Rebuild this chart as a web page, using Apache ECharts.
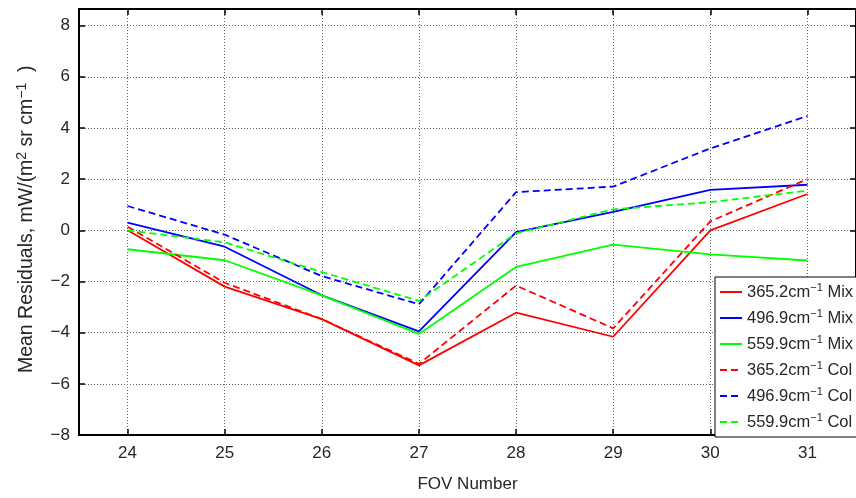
<!DOCTYPE html>
<html>
<head>
<meta charset="utf-8">
<script src="https://cdn.jsdelivr.net/npm/echarts@6/dist/echarts.min.js"></script>
<style>html,body{margin:0;padding:0;background:#fff;}#c{width:856px;height:498px;}</style>
</head>
<body>
<div id="c"></div>
<script>
const fovs = ['24', '25', '26', '27', '28', '29', '30', '31'];
const red365Mix  = [0.00, -2.20, -3.47, -5.28, -3.22, -4.16, 0.00, 1.42];
const blue497Mix = [0.30, -0.64, -2.54, -3.95, -0.07, 0.72, 1.58, 1.78];
const green560Mix = [-0.74, -1.17, -2.54, -4.05, -1.43, -0.56, -0.94, -1.18];
const red365Col  = [0.14, -2.05, -3.47, -5.22, -2.16, -3.83, 0.35, 2.00];
const blue497Col = [0.95, -0.17, -1.79, -2.89, 1.49, 1.71, 3.20, 4.47];
const green560Col = [0.00, -0.47, -1.63, -2.76, -0.12, 0.82, 1.10, 1.55];
const yTicks = [-8, -6, -4, -2, 0, 2, 4, 6, 8];

const seriesDefs = [
  {name: '365.2cm-1 Mix', data: red365Mix, color: '#ff0000', type: 'solid'},
  {name: '496.9cm-1 Mix', data: blue497Mix, color: '#0000ff', type: 'solid'},
  {name: '559.9cm-1 Mix', data: green560Mix, color: '#00ff00', type: 'solid'},
  {name: '365.2cm-1 Col', data: red365Col, color: '#ff0000', type: [7, 4]},
  {name: '496.9cm-1 Col', data: blue497Col, color: '#0000ff', type: [7, 4]},
  {name: '559.9cm-1 Col', data: green560Col, color: '#00ff00', type: [7, 4]}
];

const font = 'Liberation Sans, Arial, Helvetica, sans-serif';
const txt = '#262626';
const gridLine = {show: true, lineStyle: {color: '#666', type: [1, 2], width: 1}};

const xBase = {
  type: 'category', data: fovs, boundaryGap: true,
  axisLine: {show: true, onZero: false, lineStyle: {color: '#000', width: 2}},
  axisTick: {show: true, inside: true, length: 6, alignWithLabel: true, lineStyle: {color: '#000', width: 1.5}}
};
const yBase = {
  type: 'value', min: -8, max: 8.65, interval: 2,
  axisLine: {show: true, onZero: false, lineStyle: {color: '#000', width: 2}},
  axisTick: {show: true, inside: true, length: 6, lineStyle: {color: '#000', width: 1.5}}
};

const chart = echarts.init(document.getElementById('c'), null, {renderer: 'canvas'});
chart.setOption({
  backgroundColor: '#fff',
  animation: false,
  grid: {left: 79, right: -5, top: 9, bottom: 59, containLabel: false},
  xAxis: [
    Object.assign({}, xBase, {
      position: 'bottom',
      name: 'FOV Number', nameLocation: 'middle', nameGap: 41,
      nameTextStyle: {fontFamily: font, fontSize: 17, color: txt},
      axisLabel: {show: true, margin: 10, fontFamily: font, fontSize: 17, color: txt},
      splitLine: Object.assign({alignWithLabel: true}, gridLine)
    }),
    Object.assign({}, xBase, {
      position: 'top', axisLabel: {show: false}, splitLine: {show: false}
    })
  ],
  yAxis: [
    Object.assign({}, yBase, {
      position: 'left',
      name: '{n| Mean Residuals, mW/(m}{s|2}{n| sr cm}{s|\u22121}{n|  )}',
      nameLocation: 'middle', nameGap: 40,
      nameTextStyle: {fontFamily: font, fontSize: 19.5, color: txt,
        rich: {n: {fontFamily: font, fontSize: 19.5, color: txt, lineHeight: 24},
               s: {fontFamily: font, fontSize: 14, color: txt, verticalAlign: 'top', lineHeight: 11}}},
      axisLabel: {show: true, margin: 9, fontFamily: font, fontSize: 17, color: txt,
        formatter: function (v) {
          if (yTicks.indexOf(v) < 0) return '';
          return String(v).replace('-', '\u2212');
        }},
      splitLine: gridLine
    }),
    Object.assign({}, yBase, {
      position: 'right', axisLabel: {show: false}, splitLine: {show: false}
    })
  ],
  legend: {
    orient: 'vertical', left: 715, top: 277,
    padding: [5, 12, 5, 4], itemGap: 6, itemWidth: 22, itemHeight: 14,
    backgroundColor: '#fff', borderColor: '#000', borderWidth: 1,
    data: seriesDefs.map(d => d.name),
    itemStyle: {opacity: 0},
    formatter: function (name) {
      return name.replace(/cm-1/, 'cm{s|\u22121}');
    },
    textStyle: {fontFamily: font, fontSize: 16.5, color: txt, lineHeight: 20,
      rich: {s: {fontFamily: font, fontSize: 11, color: txt, verticalAlign: 'top', lineHeight: 10}}}
  },
  series: seriesDefs.map(d => ({
    name: d.name, type: 'line', data: d.data,
    xAxisIndex: 0, yAxisIndex: 0,
    symbol: 'none', showSymbol: false,
    itemStyle: {color: d.color},
    lineStyle: {color: d.color, width: 1.8, type: d.type}
  }))
});
</script>
</body>
</html>
